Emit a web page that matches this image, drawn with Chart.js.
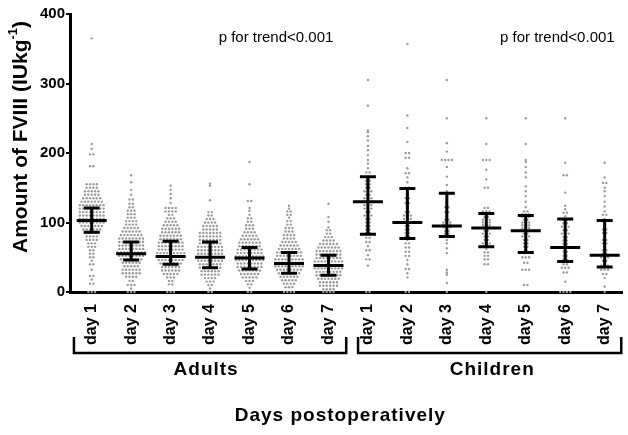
<!DOCTYPE html>
<html>
<head>
<meta charset="utf-8">
<script src="https://cdn.jsdelivr.net/npm/chart.js@4.4.0/dist/chart.umd.min.js"></script>
<style>
  body { margin: 0; background: #fff; }
  canvas { display: block; }
</style>
</head>
<body>
<canvas id="fviii" width="628" height="435"></canvas>
<script>
// categories: 7 days for adults, then 7 days for children
const dayLabels = ['day 1', 'day 2', 'day 3', 'day 4', 'day 5', 'day 6', 'day 7',
                   'day 1', 'day 2', 'day 3', 'day 4', 'day 5', 'day 6', 'day 7'];
const groupNames = ['Adults', 'Children'];
const trendNotes = ['p for trend<0.001', 'p for trend<0.001'];
const yTicks = [0, 100, 200, 300, 400];

// individual FVIII amounts (IU/kg)
const adultDay1 = [365, 213, 206, 198, 198, 181, 181,
  155, 155, 155, 155, 150, 150, 150, 150, 145, 145, 145, 145, 145, 140, 140, 140, 140, 140,
  135, 135, 135, 135, 135, 135, 130, 130, 130, 130, 130, 130, 130,
  125, 125, 125, 125, 125, 125, 125, 125, 120, 120, 120, 120, 120, 120, 120, 120,
  115, 115, 115, 115, 115, 115, 115, 115, 110, 110, 110, 110, 110, 110, 110, 110,
  105, 105, 105, 105, 105, 105, 105, 105, 100, 100, 100, 100, 100, 100, 100, 100,
  95, 95, 95, 95, 95, 95, 95, 90, 90, 90, 90, 90, 90, 85, 85, 85, 85, 85, 80, 80, 80, 80,
  75, 75, 75, 75, 70, 70, 70, 65, 65, 65, 60, 60, 55, 55, 50, 50, 45, 40, 40, 32,
  23, 23, 18, 12, 12, 0, 0, 0];
const adultDay2 = [168, 158, 147, 140, 133, 133, 127, 127, 122, 122, 117, 117, 117, 112, 112, 112,
  107, 107, 107, 102, 102, 102, 102, 97, 97, 97, 97, 92, 92, 92, 92, 92, 87, 87, 87, 87, 87, 87,
  82, 82, 82, 82, 82, 82, 82, 77, 77, 77, 77, 77, 77, 77, 77, 72, 72, 72, 72, 72, 72, 72, 72,
  67, 67, 67, 67, 67, 67, 67, 67, 62, 62, 62, 62, 62, 62, 62, 62,
  57, 57, 57, 57, 57, 57, 57, 57, 57, 52, 52, 52, 52, 52, 52, 52, 52,
  47, 47, 47, 47, 47, 47, 47, 42, 42, 42, 42, 42, 42, 37, 37, 37, 37, 37,
  32, 32, 32, 32, 32, 32, 27, 27, 27, 27, 27, 27, 22, 22, 22, 22, 16, 16, 10, 10, 10, 5, 0, 0, 0];
const adultDay3 = [153, 147, 141, 135, 128, 121, 121, 121, 121, 116, 116, 116, 116, 111, 111,
  106, 106, 106, 101, 101, 101, 101, 96, 96, 96, 96, 96, 91, 91, 91, 91, 91, 91,
  86, 86, 86, 86, 86, 86, 81, 81, 81, 81, 81, 81, 81, 76, 76, 76, 76, 76, 76, 76,
  71, 71, 71, 71, 71, 71, 71, 71, 66, 66, 66, 66, 66, 66, 66, 66, 61, 61, 61, 61, 61, 61, 61, 61,
  56, 56, 56, 56, 56, 56, 56, 56, 56, 51, 51, 51, 51, 51, 51, 51, 51, 51,
  46, 46, 46, 46, 46, 46, 46, 46, 41, 41, 41, 41, 41, 41, 41, 36, 36, 36, 36, 36, 36,
  31, 31, 31, 31, 31, 31, 26, 26, 26, 26, 26, 21, 21, 21, 16, 16, 11, 11, 0, 0, 0];
const adultDay4 = [156, 153, 132, 115, 115, 110, 110, 105, 105, 105, 100, 100, 100, 100,
  95, 95, 95, 95, 95, 90, 90, 90, 90, 90, 85, 85, 85, 85, 85, 85, 85, 80, 80, 80, 80, 80, 80, 80,
  75, 75, 75, 75, 75, 75, 75, 70, 70, 70, 70, 70, 70, 70, 65, 65, 65, 65, 65, 65, 65, 65,
  60, 60, 60, 60, 60, 60, 60, 60, 55, 55, 55, 55, 55, 55, 55, 55, 50, 50, 50, 50, 50, 50, 50, 50, 50,
  45, 45, 45, 45, 45, 45, 45, 45, 40, 40, 40, 40, 40, 40, 40, 35, 35, 35, 35, 35, 35, 35,
  30, 30, 30, 30, 30, 30, 25, 25, 25, 25, 25, 25, 20, 20, 20, 20, 15, 15, 15, 10, 10, 5, 0, 0];
const adultDay5 = [187, 155, 131, 131, 121, 117, 111, 106, 106, 101, 101, 96, 96, 96, 91, 91, 91,
  86, 86, 86, 86, 81, 81, 81, 81, 81, 76, 76, 76, 76, 76, 76, 71, 71, 71, 71, 71, 71, 71,
  66, 66, 66, 66, 66, 66, 66, 61, 61, 61, 61, 61, 61, 61, 61, 56, 56, 56, 56, 56, 56, 56, 56,
  51, 51, 51, 51, 51, 51, 51, 51, 51, 46, 46, 46, 46, 46, 46, 46, 46, 46,
  41, 41, 41, 41, 41, 41, 41, 41, 36, 36, 36, 36, 36, 36, 36, 36, 31, 31, 31, 31, 31, 31, 31,
  26, 26, 26, 26, 26, 26, 21, 21, 21, 21, 21, 16, 16, 16, 11, 11, 6, 0, 0];
const adultDay6 = [124, 120, 116, 116, 111, 111, 107, 102, 102, 97, 97, 92, 92, 92, 87, 87, 87,
  82, 82, 82, 82, 77, 77, 77, 77, 72, 72, 72, 72, 72, 67, 67, 67, 67, 67, 67,
  62, 62, 62, 62, 62, 62, 62, 57, 57, 57, 57, 57, 57, 57, 57, 52, 52, 52, 52, 52, 52, 52, 52,
  47, 47, 47, 47, 47, 47, 47, 47, 47, 42, 42, 42, 42, 42, 42, 42, 42, 42,
  37, 37, 37, 37, 37, 37, 37, 37, 37, 32, 32, 32, 32, 32, 32, 32, 32, 27, 27, 27, 27, 27, 27, 27,
  22, 22, 22, 22, 22, 22, 17, 17, 17, 17, 17, 12, 12, 12, 12, 7, 7, 7, 0, 0, 0, 0];
const adultDay7 = [127, 108, 101, 93, 89, 89, 84, 84, 79, 79, 79, 74, 74, 74, 74,
  69, 69, 69, 69, 69, 69, 64, 64, 64, 64, 64, 64, 64, 59, 59, 59, 59, 59, 59, 59, 59,
  54, 54, 54, 54, 54, 54, 54, 54, 49, 49, 49, 49, 49, 49, 49, 49,
  44, 44, 44, 44, 44, 44, 44, 44, 44, 39, 39, 39, 39, 39, 39, 39, 39, 39,
  34, 34, 34, 34, 34, 34, 34, 34, 34, 29, 29, 29, 29, 29, 29, 29, 29,
  24, 24, 24, 24, 24, 24, 24, 24, 19, 19, 19, 19, 19, 19, 19, 14, 14, 14, 14, 14, 14,
  9, 9, 9, 9, 9, 9, 4, 4, 4, 4, 0, 0, 0, 0];
const childDay1 = [305, 268, 232, 230, 224, 218, 210, 204, 197, 190, 185, 178, 172, 172, 166, 160, 160,
  155, 155, 150, 150, 145, 145, 145, 140, 140, 135, 135, 135, 130, 130, 130, 125, 125, 125,
  120, 120, 120, 115, 115, 110, 110, 110, 105, 105, 100, 100, 95, 95, 90, 90, 85, 85,
  78, 78, 72, 72, 66, 60, 60, 53, 47, 47, 38, 0, 0];
const childDay2 = [357, 254, 236, 216, 200, 200, 193, 193, 178, 171, 171, 165, 158, 150, 150, 140,
  135, 135, 128, 128, 122, 115, 115, 110, 110, 110, 105, 105, 105, 100, 100, 100, 95, 95, 90, 90,
  85, 85, 80, 80, 75, 70, 70, 64, 64, 58, 58, 52, 52, 46, 40, 33, 33, 27, 21, 0, 0];
const childDay3 = [305, 250, 214, 202, 190, 190, 190, 190, 180, 166, 154, 145, 137, 130, 122, 122,
  115, 115, 108, 104, 104, 100, 100, 100, 97, 97, 97, 93, 93, 93, 88, 88, 84, 84, 80, 80,
  75, 70, 63, 56, 32, 28, 25, 13, 0];
const childDay4 = [250, 213, 190, 190, 190, 176, 162, 150, 150, 121, 121, 116, 116, 116, 112, 112, 112,
  108, 108, 104, 104, 104, 100, 100, 100, 96, 96, 96, 92, 92, 92, 88, 88, 84, 84, 84, 80, 80,
  75, 75, 70, 70, 70, 66, 66, 62, 57, 57, 52, 52, 47, 47, 40, 40, 0];
const childDay5 = [250, 213, 190, 187, 180, 172, 165, 152, 145, 138, 130, 122, 116, 116, 112, 112, 112,
  108, 108, 108, 104, 104, 100, 100, 100, 96, 96, 96, 92, 92, 92, 88, 88, 88, 84, 84, 80, 80, 80,
  75, 75, 70, 70, 65, 65, 58, 58, 50, 50, 50, 42, 42, 32, 32, 32, 10, 10];
const childDay6 = [250, 186, 168, 168, 143, 124, 119, 114, 114, 109, 104, 104, 99, 99, 94, 94, 94,
  89, 89, 84, 84, 84, 79, 79, 74, 74, 69, 69, 64, 64, 64, 58, 58, 52, 52, 47, 47, 40, 40,
  35, 35, 35, 28, 28, 15, 0, 0, 0, 0];
const childDay7 = [186, 165, 157, 157, 150, 145, 138, 130, 123, 116, 111, 111, 105, 100, 95, 90, 90,
  85, 85, 80, 75, 75, 70, 70, 65, 60, 60, 55, 55, 50, 50, 50, 45, 45, 38, 38, 38,
  32, 32, 32, 26, 26, 20, 8, 0];

const pointValues = [adultDay1, adultDay2, adultDay3, adultDay4, adultDay5, adultDay6, adultDay7,
                     childDay1, childDay2, childDay3, childDay4, childDay5, childDay6, childDay7];

// median and interquartile range per category
const medians = [103, 55, 51, 50, 49, 41, 38, 130, 100, 95, 92, 88, 64, 53];
const lowerQuartiles = [86, 46, 40, 35, 33, 27, 24, 83, 77, 80, 65, 57, 44, 36];
const upperQuartiles = [121, 72, 73, 72, 64, 57, 53, 166, 149, 142, 113, 110, 105, 103];

const FONT = "'Liberation Sans', Arial, sans-serif";
const dotGap = 0.086; // horizontal spacing of dots in a row, in category units

// spread equal values side by side (simple dot-plot swarm)
function swarm(values, index) {
  const rows = new Map();
  values.forEach(v => {
    if (!rows.has(v)) rows.set(v, []);
    rows.get(v).push(v);
  });
  const pts = [];
  rows.forEach(row => {
    row.forEach((v, k) => {
      pts.push({ x: index + (k - (row.length - 1) / 2) * dotGap, y: v });
    });
  });
  return pts;
}

const allPoints = pointValues.flatMap((vals, i) => swarm(vals, i));

// median line + IQR whiskers
const summaryBars = {
  id: 'summaryBars',
  afterDatasetsDraw(chart) {
    const { ctx, scales: { x, y } } = chart;
    ctx.save();
    ctx.strokeStyle = '#000';
    ctx.lineWidth = 3;
    medians.forEach((m, i) => {
      const cx = x.getPixelForValue(i);
      const yMed = y.getPixelForValue(m);
      const yLo = y.getPixelForValue(lowerQuartiles[i]);
      const yHi = y.getPixelForValue(upperQuartiles[i]);
      ctx.beginPath();
      ctx.moveTo(cx, yLo); ctx.lineTo(cx, yHi);
      ctx.moveTo(cx - 8, yLo); ctx.lineTo(cx + 8, yLo);
      ctx.moveTo(cx - 8, yHi); ctx.lineTo(cx + 8, yHi);
      ctx.moveTo(cx - 15, yMed); ctx.lineTo(cx + 15, yMed);
      ctx.stroke();
    });
    ctx.restore();
  }
};

// titles, group brackets and trend notes
const decorations = {
  id: 'decorations',
  afterDraw(chart) {
    const { ctx, scales: { x, y } } = chart;
    ctx.save();
    ctx.fillStyle = '#000';

    // trend notes
    ctx.font = '15px ' + FONT;
    ctx.textAlign = 'center';
    ctx.textBaseline = 'middle';
    ctx.fillText(trendNotes[0], x.getPixelForValue(4.67), y.getPixelForValue(365));
    ctx.fillText(trendNotes[1], x.getPixelForValue(11.8), y.getPixelForValue(365));

    // group brackets
    const spans = [[-0.45, 6.45], [6.75, 13.42]];
    const labelAt = [2.9, 10.15];
    ctx.strokeStyle = '#000';
    ctx.lineWidth = 2.5;
    ctx.letterSpacing = '1px';
    spans.forEach(([a, b], g) => {
      const x0 = x.getPixelForValue(a), x1 = x.getPixelForValue(b);
      ctx.beginPath();
      ctx.moveTo(x0, 337); ctx.lineTo(x0, 353); ctx.lineTo(x1, 353); ctx.lineTo(x1, 337);
      ctx.stroke();
      ctx.font = 'bold 19px ' + FONT;
      ctx.fillText(groupNames[g], x.getPixelForValue(labelAt[g]), 370);
    });

    // x title
    ctx.font = 'bold 19px ' + FONT;
    ctx.fillText('Days postoperatively', x.getPixelForValue(6.3), 416);
    ctx.letterSpacing = '0px';

    // y title with superscript
    const main = 'Amount of FVIII (IUkg';
    const sup = '-1';
    const tail = ')';
    ctx.translate(21, 137);
    ctx.rotate(-Math.PI / 2);
    ctx.textAlign = 'left';
    ctx.font = 'bold 21px ' + FONT;
    const wMain = ctx.measureText(main).width;
    const wTail = ctx.measureText(tail).width;
    ctx.font = 'bold 13px ' + FONT;
    const wSup = ctx.measureText(sup).width;
    let pos = -(wMain + wSup + wTail) / 2;
    ctx.font = 'bold 21px ' + FONT;
    ctx.fillText(main, pos, 0);
    pos += wMain;
    ctx.font = 'bold 13px ' + FONT;
    ctx.fillText(sup, pos, -8);
    pos += wSup;
    ctx.font = 'bold 21px ' + FONT;
    ctx.fillText(tail, pos, 0);
    ctx.restore();
  }
};

new Chart(document.getElementById('fviii'), {
  type: 'scatter',
  data: {
    datasets: [{
      data: allPoints,
      backgroundColor: '#9a9a9a',
      borderWidth: 0,
      pointRadius: 1.2,
      clip: false
    }]
  },
  options: {
    responsive: false,
    animation: false,
    layout: { padding: { top: 14, right: 0, left: 0, bottom: 0 } },
    plugins: { legend: { display: false }, tooltip: { enabled: false } },
    scales: {
      x: {
        type: 'linear',
        min: -0.55,
        max: 13.45,
        afterBuildTicks(scale) {
          scale.ticks = dayLabels.map((_, i) => ({ value: i }));
        },
        afterFit(scale) { scale.height = 143; },
        grid: { display: false },
        border: { color: '#000', width: 3 },
        ticks: {
          color: '#000',
          font: { family: FONT, size: 16, weight: 'bold' },
          minRotation: 90,
          maxRotation: 90,
          padding: 4,
          autoSkip: false,
          callback: (v) => dayLabels[v]
        }
      },
      y: {
        min: 0,
        max: 400,
        afterBuildTicks(scale) {
          scale.ticks = yTicks.map(v => ({ value: v }));
        },
        afterFit(scale) { scale.width = 70; },
        grid: { display: true, drawOnChartArea: false, drawTicks: true, tickLength: 4, color: '#000', lineWidth: 2 },
        border: { color: '#000', width: 3 },
        ticks: {
          color: '#000',
          font: { family: FONT, size: 15, weight: 'bold' },
          padding: 1
        }
      }
    }
  },
  plugins: [summaryBars, decorations]
});
</script>
</body>
</html>
